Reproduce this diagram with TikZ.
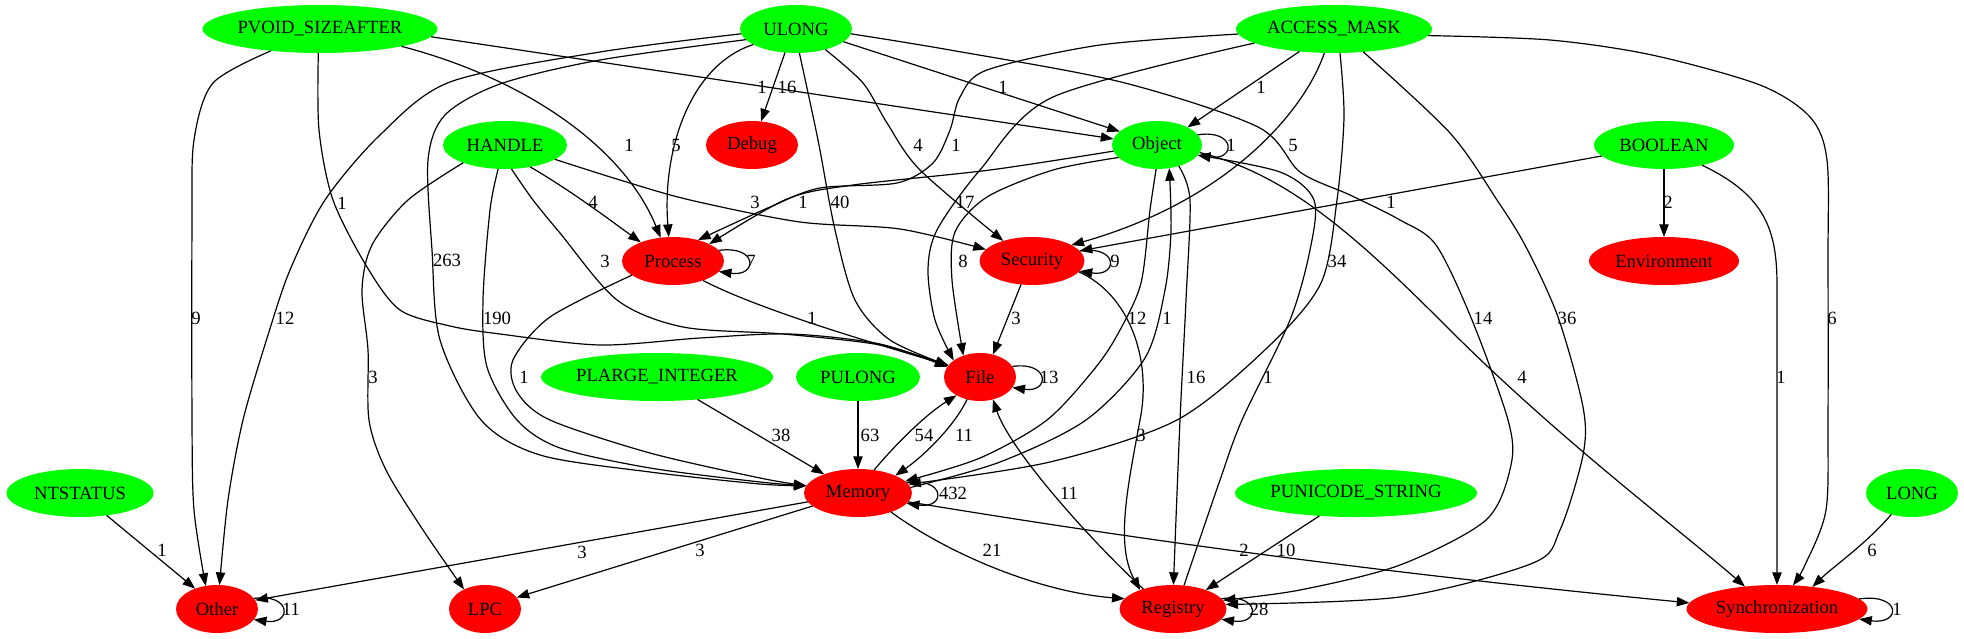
\documentclass[tikz,border=0pt]{standalone}
\usepackage{fontspec}
\setmainfont{Liberation Serif}
\usetikzlibrary{shapes.geometric,arrows.meta,calc}
\definecolor{gfill}{RGB}{0,255,0}
\definecolor{rfill}{RGB}{255,0,0}
\begin{document}
\begin{tikzpicture}[x=0.75pt,y=-0.75pt,
  font=\fontsize{14pt}{17pt}\selectfont,
  base/.style={ellipse, minimum height=36pt, inner sep=0pt, outer sep=0pt, text=black},
  gn/.style={base, fill=gfill},
  rn/.style={base, fill=rfill},
  lbl/.style={inner sep=0pt, outer sep=0pt},
  edge/.style={draw=black, line width=0.9pt, -{Triangle[length=9.5pt,width=7pt]}}]
\useasboundingbox (0,0) rectangle (1964,639);
% nodes
\node[gn, minimum width=176.25pt] (PV) at (320,29) {PVOID\_SIZEAFTER};
\node[gn, minimum width=84pt] (UL) at (796,29) {ULONG};
\node[gn, minimum width=147pt] (AM) at (1334,29) {ACCESS\_MASK};
\node[gn, minimum width=93pt] (HA) at (505,145) {HANDLE};
\node[rn, minimum width=69pt] (DE) at (752,145) {Debug};
\node[gn, minimum width=67.5pt] (OB) at (1157,145) {Object};
\node[gn, minimum width=105pt] (BO) at (1664,145) {BOOLEAN};
\node[rn, minimum width=76.5pt] (PR) at (673,261) {Process};
\node[rn, minimum width=78.75pt] (SE) at (1032,261) {Security};
\node[rn, minimum width=112.5pt] (EN) at (1664,261) {Environment};
\node[gn, minimum width=174pt] (PL) at (657,377) {PLARGE\_INTEGER};
\node[gn, minimum width=93pt] (PU) at (858,377) {PULONG};
\node[rn, minimum width=54pt] (FI) at (980,377) {File};
\node[gn, minimum width=110.25pt] (NT) at (80,493) {NTSTATUS};
\node[rn, minimum width=81pt] (ME) at (858,493) {Memory};
\node[gn, minimum width=181.5pt] (PS) at (1356,493) {PUNICODE\_STRING};
\node[gn, minimum width=69pt] (LO) at (1912,493) {LONG};
\node[rn, minimum width=61.5pt] (OT) at (217,609) {Other};
\node[rn, minimum width=54pt] (LP) at (485,609) {LPC};
\node[rn, minimum width=80.25pt] (RE) at (1173,609) {Registry};
\node[rn, minimum width=135.75pt] (SY) at (1777,609) {Synchronization};
% PVOID_SIZEAFTER
\draw[edge] plot[smooth] coordinates {(PV.204) (213,83) (194,140) (192,220) (192,420) (194,510) (OT.116)};
\draw[edge] plot[smooth] coordinates {(PV.266) (319,130) (333,200) (367,267) (400,310) (450,326) (500,334) (600,345) (700,338) (790,334) (880,344) (FI.163)};
\draw[edge] (PV.348) .. controls (530,80) and (625,150) .. (PR.118);
\draw[edge] (PV.356) -- (OB.172);
% ULONG
\draw[edge] (UL.245) -- (DE.69);
\draw[edge] plot[smooth] coordinates {(UL.185) (600,52) (450,82) (380,135) (325,200) (290,270) (268,335) (243,420) (228,500) (OT.84)};
\draw[edge] plot[smooth] coordinates {(UL.192) (600,60) (500,84) (445,115) (428,160) (432,250) (440,340) (481,420) (540,455) (650,472) (760,484) (ME.172)};
\draw[edge] (UL.200) .. controls (690,65) and (662,150) .. (PR.100);
\draw[edge] plot[smooth] coordinates {(UL.278) (818,140) (835,230) (855,300) (890,340) (FI.160)};
\draw[edge] plot[smooth] coordinates {(UL.325) (863,83) (887,123) (920,170) (SE.145)};
\draw[edge] (UL.345) -- (OB.160);
\draw[edge] plot[smooth] coordinates {(UL.355) (950,50) (1121,82) (1258,127) (1300,172) (1350,195) (1400,220) (1436,245) (1472,320) (1508,420) (1511,465) (1486,520) (1400,565) (1300,590) (RE.10)};
% ACCESS_MASK
\draw[edge] plot[smooth] coordinates {(AM.183) (1100,45) (987,70) (960,97) (950,130) (933,163) (897,183) (820,188) (770,207) (PR.40)};
\draw[edge] plot[smooth] coordinates {(AM.190) (1053,97) (980,170) (937,230) (928,270) (935,320) (FI.148)};
\draw[edge] (AM.248) .. controls (1305,110) and (1230,200) .. (SE.22);
\draw[edge] plot[smooth] coordinates {(AM.284) (1344,117) (1337,200) (1321,283) (1268,347) (1177,420) (1050,462) (ME.10)};
\draw[edge] (AM.213) -- (OB.30);
\draw[edge] plot[smooth] coordinates {(AM.322) (1450,133) (1497,200) (1526,247) (1558,317) (1583,407) (1583,455) (1560,530) (1533,563) (1400,597) (RE.5)};
\draw[edge] plot[smooth] coordinates {(AM.356) (1550,40) (1652,55) (1760,85) (1810,117) (1827,160) (1828,260) (1828,420) (1826,510) (1805,565) (SY.56)};
% BOOLEAN
\draw[edge] (BO.190) -- (SE.12);
\draw[edge] (BO.south) -- (EN.north);
\draw[edge] (BO.332) .. controls (1765,195) and (1777,230) .. (1777,285) -- (SY.north);
% LONG, PUNICODE_STRING, NTSTATUS
\draw[edge] (LO.226) .. controls (1865,545) and (1835,565) .. (SY.32);
\draw[edge] (PS.212) -- (RE.30);
\draw[edge] (NT.320) -- (OT.137);
% HANDLE
\draw[edge] plot[smooth] coordinates {(HA.203) (408,200) (372,245) (362,290) (368,350) (369,420) (386,470) (423,530) (LP.137)};
\draw[edge] (HA.319) .. controls (570,190) and (610,220) .. (PR.150);
\draw[edge] plot[smooth] coordinates {(HA.344) (620,180) (690,200) (800,222) (900,229) (SE.166)};
\draw[edge] plot[smooth] coordinates {(HA.285) (533,200) (560,233) (617,300) (683,327) (783,334) (880,345) (FI.160)};
\draw[edge] plot[smooth] coordinates {(HA.254) (490,210) (483,300) (487,367) (517,420) (560,448) (650,468) (760,482) (ME.172)};
% Process
\draw[edge] plot[smooth] coordinates {(PR.199) (550,317) (513,360) (517,392) (550,420) (650,453) (760,478) (ME.172)};
\draw[edge] (PR.327) .. controls (760,310) and (870,342) .. (FI.160);
\draw[edge] (PR.13) .. controls ($(PR.east)+(34,-16)$) and ($(PR.east)+(34,16)$) .. (PR.-13);
% PLARGE_INTEGER, PULONG
\draw[edge] (PL.331) -- (ME.151);
\draw[edge] (PU.south) -- (ME.north);
% File
\draw[edge] (FI.240) .. controls (955,425) and (925,455) .. (ME.25);
\draw[edge] (FI.18) .. controls ($(FI.east)+(34,-16)$) and ($(FI.east)+(34,16)$) .. (FI.-18);
% Memory
\draw[edge] (ME.55) .. controls (895,445) and (925,415) .. (FI.218);
\draw[edge] (ME.190) -- (OT.13);
\draw[edge] (ME.196) -- (LP.20);
\draw[edge] (ME.330) .. controls (950,555) and (1040,592) .. (RE.168);
\draw[edge] (ME.350) .. controls (1050,525) and (1300,565) .. (SY.176);
\draw[edge] plot[smooth] coordinates {(ME.6) (1000,462) (1086,420) (1145,358) (1165,290) (1171,230) (OB.298)};
\draw[edge] (ME.12) .. controls ($(ME.east)+(34,-16)$) and ($(ME.east)+(34,16)$) .. (ME.-12);
% Security
\draw[edge] (SE.245) -- (FI.60);
\draw[edge] (SE.347) .. controls (1130,295) and (1152,360) .. (1140,420) .. controls (1128,485) and (1115,545) .. (RE.150);
\draw[edge] (SE.12) .. controls ($(SE.east)+(34,-16)$) and ($(SE.east)+(34,16)$) .. (SE.-12);
% Object
\draw[edge] plot[smooth] coordinates {(OB.188) (990,170) (853,185) (787,199) (PR.25)};
\draw[edge] plot[smooth] coordinates {(OB.198) (1053,170) (987,197) (955,232) (952,280) (FI.128)};
\draw[edge] plot[smooth] coordinates {(OB.268) (1150,210) (1141,283) (1120,330) (1096,367) (1047,420) (980,458) (ME.14)};
\draw[edge] plot[smooth] coordinates {(OB.316) (1190,200) (1186,300) (1180,420) (RE.89)};
\draw[edge] (OB.350) .. controls (1290,175) and (1360,240) .. (1450,330) .. controls (1560,440) and (1680,530) .. (SY.145);
\draw[edge] (OB.14) .. controls ($(OB.east)+(34,-16)$) and ($(OB.east)+(34,16)$) .. (OB.-14);
% Registry
\draw[edge] (RE.146) .. controls (1090,540) and (1010,450) .. (FI.300);
\draw[edge] plot[smooth] coordinates {(RE.65) (1220,480) (1242,420) (1290,320) (1310,250) (1314,200) (1280,172) (OB.346)};
\draw[edge] (RE.12) .. controls ($(RE.east)+(34,-16)$) and ($(RE.east)+(34,16)$) .. (RE.-12);
% Other, Synchronization loops
\draw[edge] (OT.16) .. controls ($(OT.east)+(34,-16)$) and ($(OT.east)+(34,16)$) .. (OT.-16);
\draw[edge] (SY.7) .. controls ($(SY.east)+(34,-16)$) and ($(SY.east)+(34,16)$) .. (SY.-7);
% labels
\node[lbl] (l01) at (762,87) {1};
\node[lbl] (l02) at (787,87) {16};
\node[lbl] (l03) at (1003,87) {1};
\node[lbl] (l04) at (1261,87) {1};
\node[lbl] (l05) at (629,145) {1};
\node[lbl] (l06) at (676,145) {5};
\node[lbl] (l07) at (918,145) {4};
\node[lbl] (l08) at (956,145) {1};
\node[lbl] (l09) at (1231,145) {1};
\node[lbl] (l10) at (1293,145) {5};
\node[lbl] (l11) at (342,203) {1};
\node[lbl] (l12) at (593,202) {4};
\node[lbl] (l13) at (755,202) {3};
\node[lbl] (l14) at (803,202) {1};
\node[lbl] (l15) at (840,202) {40};
\node[lbl] (l16) at (965,202) {17};
\node[lbl] (l17) at (1391,202) {1};
\node[lbl] (l18) at (1668,202) {2};
\node[lbl] (l19) at (447,260) {263};
\node[lbl] (l20) at (605,261) {3};
\node[lbl] (l21) at (751,261) {7};
\node[lbl] (l22) at (963,261) {8};
\node[lbl] (l23) at (1115,261) {9};
\node[lbl] (l24) at (1337,261) {34};
\node[lbl] (l25) at (196,318) {9};
\node[lbl] (l26) at (285,318) {12};
\node[lbl] (l27) at (497,318) {190};
\node[lbl] (l28) at (812,318) {1};
\node[lbl] (l29) at (1016,318) {3};
\node[lbl] (l30) at (1137,318) {12};
\node[lbl] (l31) at (1167,318) {1};
\node[lbl] (l32) at (1483,318) {14};
\node[lbl] (l33) at (1567,318) {36};
\node[lbl] (l34) at (1832,318) {6};
\node[lbl] (l35) at (373,377) {3};
\node[lbl] (l36) at (524,377) {1};
\node[lbl] (l37) at (1049,377) {13};
\node[lbl] (l38) at (1196,377) {16};
\node[lbl] (l39) at (1268,377) {1};
\node[lbl] (l40) at (1522,377) {4};
\node[lbl] (l41) at (1781,377) {1};
\node[lbl] (l42) at (781,435) {38};
\node[lbl] (l43) at (870,435) {63};
\node[lbl] (l44) at (924,435) {54};
\node[lbl] (l45) at (964,435) {11};
\node[lbl] (l46) at (1141,435) {3};
\node[lbl] (l47) at (953,493) {432};
\node[lbl] (l48) at (1069,493) {11};
\node[lbl] (l49) at (162,550) {1};
\node[lbl] (l50) at (582,552) {3};
\node[lbl] (l51) at (700,550) {3};
\node[lbl] (l52) at (992,550) {21};
\node[lbl] (l53) at (1244,550) {2};
\node[lbl] (l54) at (1286,550) {10};
\node[lbl] (l55) at (1872,550) {6};
\node[lbl] (l56) at (291,609) {11};
\node[lbl] (l57) at (1259,609) {28};
\node[lbl] (l58) at (1897,609) {1};
\end{tikzpicture}
\end{document}
